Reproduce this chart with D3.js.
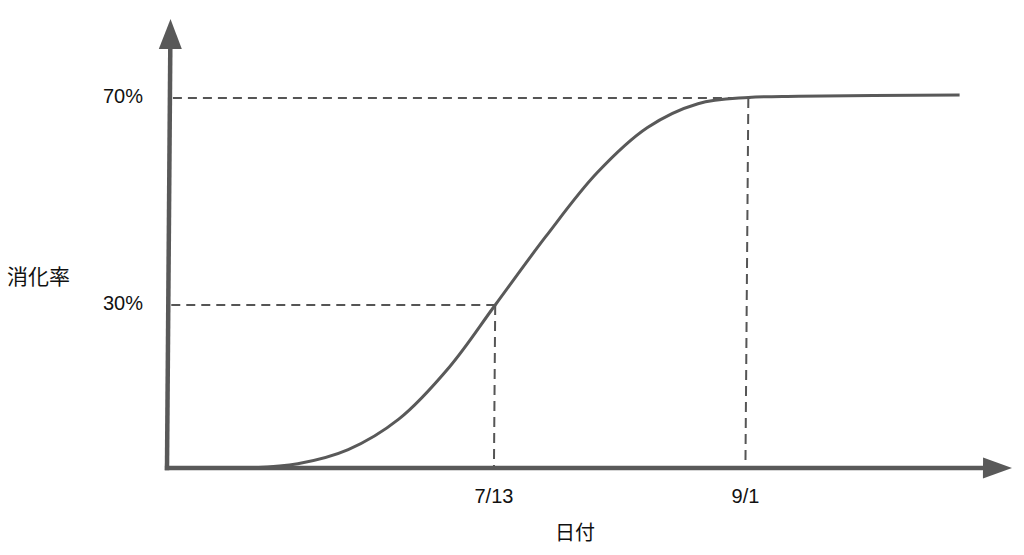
<!DOCTYPE html>
<html><head><meta charset="utf-8">
<script src="https://cdn.jsdelivr.net/npm/d3@7"></script>
<style>html,body{margin:0;padding:0;background:#fff;} svg{display:block}</style>
</head><body>
<svg id="chart" width="1024" height="555"></svg>
<script>
// ---- data ----
const curveDates  = ["5/25","6/4","6/14","6/24","7/4","7/13","7/23","8/2","8/12","8/22","9/1","9/11","10/13"];
const curveValues = [0, 0.8, 3.4, 9.0, 18.6, 30, 43.3, 55.5, 64.3, 68.9, 70.1, 70.35, 70.6];
const xTickLabels = ["7/13", "9/1"];
const yTickValues = [30, 70];
const xDomainLabels = ["5/9", "10/24"];
const yBreaks = [0, 30, 70];
const xTitle = "日付";
const yTitle = "消化率";

const parse = s => { const [m, d] = s.split("/").map(Number); return new Date(2020, m - 1, d); };
const points = curveDates.map((d, i) => ({ date: parse(d), value: curveValues[i] }));

const col = "#595959";
const latin = "'Liberation Sans', Arial, Helvetica, sans-serif";
const cjk = "'Noto Sans CJK JP', 'Noto Sans CJK SC', sans-serif";

const svg = d3.select("#chart");
const x = d3.scaleTime().domain(xDomainLabels.map(parse)).range([167, 1012]);
const y = d3.scaleLinear().domain(yBreaks).range([468, 305, 98]);

const x0 = x.range()[0], x1 = x.range()[1];
const yBase = y(0);
const yTop = 19;

// slightly skewed drawing group (as in the reference)
const g = svg.append("g")
  .attr("transform", `translate(0,${yBase}) skewX(-0.45) translate(0,${-yBase})`);

// dashed guide lines
const guides = xTickLabels.map((d, i) => ({ date: parse(d), value: yTickValues[i] }));
g.selectAll("line.h").data(guides).join("line")
  .attr("x1", x0 + 3).attr("x2", d => x(d.date) + 2)
  .attr("y1", d => y(d.value)).attr("y2", d => y(d.value))
  .attr("stroke", "#555").attr("stroke-width", 2).attr("stroke-dasharray", "9,6");
g.selectAll("line.v").data(guides).join("line")
  .attr("x1", d => x(d.date)).attr("x2", d => x(d.date))
  .attr("y1", d => y(d.value)).attr("y2", yBase)
  .attr("stroke", "#555").attr("stroke-width", 2).attr("stroke-dasharray", "10,6");

// curve
g.append("path").datum(points)
  .attr("d", d3.line().x(d => x(d.date)).y(d => y(d.value)).curve(d3.curveCatmullRom.alpha(0.5)))
  .attr("fill", "none").attr("stroke", col).attr("stroke-width", 3);

// axes
g.append("line").attr("x1", x0).attr("x2", x0).attr("y1", yBase + 2.3).attr("y2", yTop + 28)
  .attr("stroke", col).attr("stroke-width", 4.5);
g.append("line").attr("x1", x0 - 2.2).attr("x2", x1 - 28).attr("y1", yBase).attr("y2", yBase)
  .attr("stroke", col).attr("stroke-width", 4.5);
// arrowheads
g.append("path")
  .attr("d", `M${x0},${yTop} L${x0 + 11.5},${yTop + 30} L${x0 - 11.5},${yTop + 30} Z`)
  .attr("fill", col);
g.append("path")
  .attr("d", `M${x1},${yBase} L${x1 - 29},${yBase + 10.5} L${x1 - 29},${yBase - 10.5} Z`)
  .attr("fill", col);

// tick labels
svg.selectAll("text.yt").data(yTickValues).join("text")
  .attr("x", x0 - 24).attr("y", d => y(d) + 4.5)
  .attr("text-anchor", "end").attr("font-family", latin).attr("font-size", 20).attr("fill", "#111")
  .text(d => d + "%");
svg.selectAll("text.xt").data(xTickLabels).join("text")
  .attr("x", d => x(parse(d))).attr("y", yBase + 35)
  .attr("text-anchor", "middle").attr("font-family", latin).attr("font-size", 20).attr("fill", "#111")
  .text(d => d);

// titles
svg.append("text").attr("x", 575).attr("y", 540).attr("text-anchor", "middle")
  .attr("font-family", cjk).attr("font-size", 20).attr("fill", "#111").text(xTitle);
svg.append("text").attr("x", 38.5).attr("y", 284).attr("text-anchor", "middle")
  .attr("font-family", cjk).attr("font-size", 21).attr("fill", "#111").text(yTitle);
</script>
</body></html>
